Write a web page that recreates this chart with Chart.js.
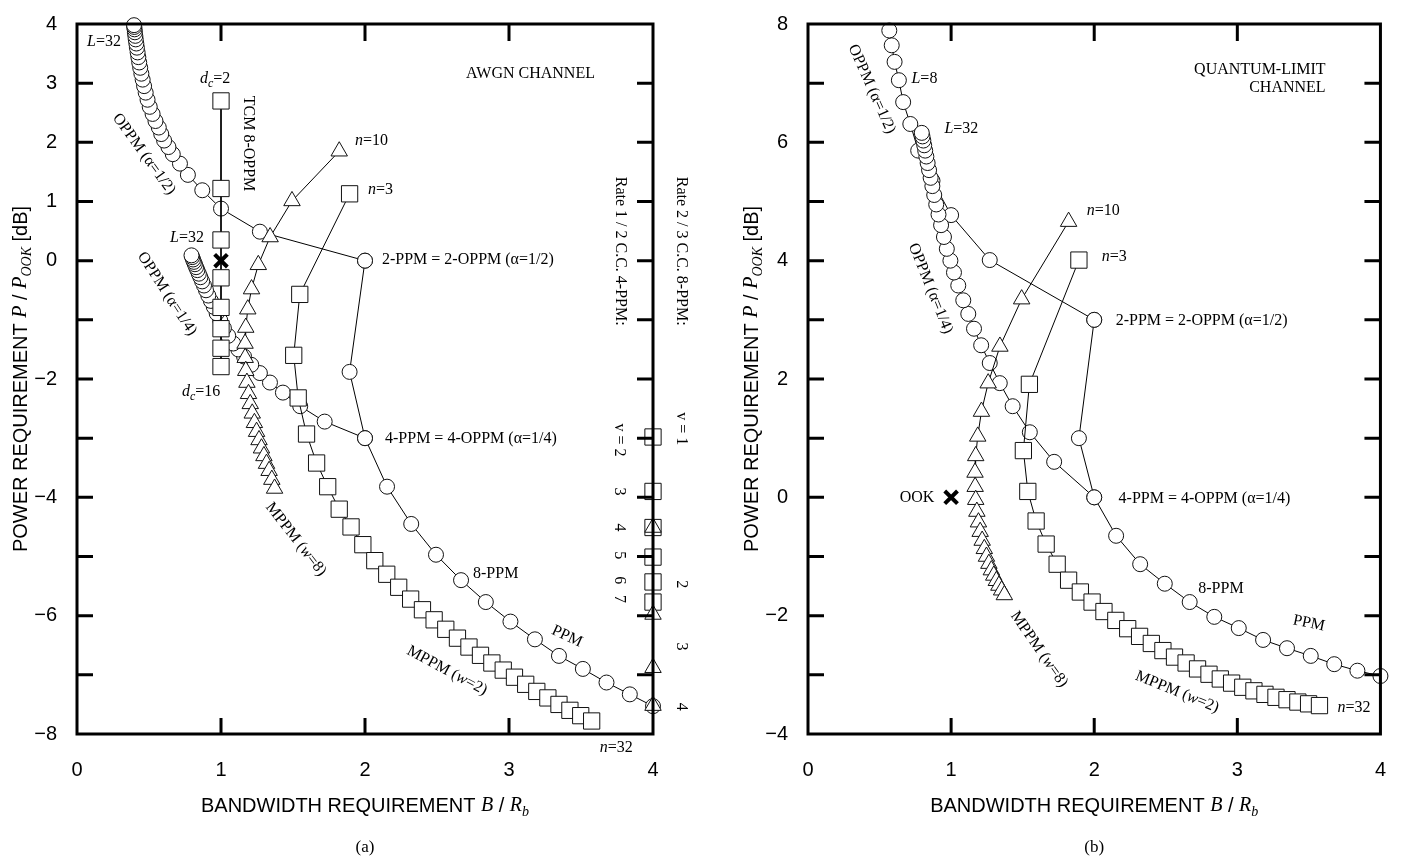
<!DOCTYPE html>
<html lang="en">
<head>
<meta charset="UTF-8">
<title>Power vs bandwidth requirement</title>
<style>
  html, body { margin: 0; padding: 0; background: #fff; }
  #wrap { position: relative; width: 1402px; height: 860px; }
  .panel { position: absolute; top: 0; width: 701px; height: 860px; }
</style>
</head>
<body>
<script src="https://cdn.jsdelivr.net/npm/chart.js"></script>
<div id="wrap">
  <div class="panel" style="left:0"><canvas id="awgnChart"></canvas></div>
  <div class="panel" style="left:701px"><canvas id="qlChart"></canvas></div>
</div>
<script>
// bandwidth requirement B/Rb (same for both channels)
const ppmB = [2.0, 1.893, 2.0, 2.153, 2.321, 2.493, 2.667, 2.839, 3.010, 3.180, 3.347, 3.513, 3.677, 3.839, 4.0];
const oppmHalfB = [2.0, 1.27, 1.0, 0.87, 0.77, 0.715, 0.665, 0.635, 0.605, 0.585, 0.568, 0.545, 0.525, 0.505, 0.49, 0.477,
  0.466, 0.456, 0.447, 0.439, 0.432, 0.426, 0.421, 0.416, 0.412, 0.408, 0.405, 0.402, 0.40, 0.398, 0.396];
const oppmQuarterB = [2.0, 1.72, 1.55, 1.43, 1.34, 1.27, 1.21, 1.16, 1.12, 1.085, 1.05, 1.02, 0.995, 0.97, 0.95, 0.93,
  0.912, 0.896, 0.882, 0.869, 0.857, 0.846, 0.836, 0.827, 0.819, 0.812, 0.806, 0.80, 0.795];
const mppm2B = [1.893, 1.547, 1.505, 1.536, 1.594, 1.664, 1.741, 1.821, 1.903, 1.985, 2.068, 2.151, 2.234, 2.317, 2.399,
  2.480, 2.561, 2.642, 2.722, 2.802, 2.881, 2.960, 3.038, 3.116, 3.193, 3.270, 3.347, 3.423, 3.498, 3.574];
const mppm8B = [1.821, 1.493, 1.341, 1.259, 1.212, 1.186, 1.172, 1.167, 1.168, 1.172, 1.180, 1.191, 1.203, 1.217, 1.232,
  1.247, 1.264, 1.281, 1.298, 1.316, 1.334, 1.353, 1.372];
const tcmB = [1, 1, 1, 1, 1, 1, 1, 1];
const cc12B = [4, 4, 4, 4, 4, 4];
const cc23B = [4, 4, 4, 4];
const ookB = [1];

// power requirement P/Pook [dB], AWGN channel
const ppmAwgn = [0, -1.88, -3.0, -3.82, -4.45, -4.97, -5.4, -5.77, -6.1, -6.4, -6.68, -6.9, -7.13, -7.33, -7.53];
const oppmHalfAwgn = [0.0, 0.49, 0.88, 1.19, 1.45, 1.64, 1.80, 1.92, 2.03, 2.14, 2.25, 2.36, 2.48, 2.60, 2.72, 2.84,
  2.95, 3.06, 3.16, 3.26, 3.35, 3.44, 3.52, 3.60, 3.67, 3.74, 3.80, 3.86, 3.91, 3.95, 3.98];
const oppmQuarterAwgn = [-3.0, -2.72, -2.46, -2.23, -2.06, -1.9, -1.76, -1.62, -1.50, -1.40, -1.27, -1.14, -1.01, -0.89,
  -0.78, -0.68, -0.59, -0.50, -0.42, -0.35, -0.28, -0.22, -0.16, -0.11, -0.06, -0.02, 0.02, 0.06, 0.09];
const mppm2Awgn = [1.13, -0.57, -1.6, -2.32, -2.93, -3.42, -3.82, -4.2, -4.5, -4.8, -5.07, -5.3, -5.52, -5.72, -5.9,
  -6.07, -6.23, -6.38, -6.53, -6.67, -6.8, -6.92, -7.04, -7.16, -7.28, -7.39, -7.5, -7.6, -7.69, -7.78];
const mppm8Awgn = [1.85, 1.01, 0.4, -0.07, -0.48, -0.82, -1.13, -1.4, -1.64, -1.86, -2.06, -2.25, -2.42, -2.58, -2.74,
  -2.89, -3.03, -3.17, -3.3, -3.43, -3.55, -3.7, -3.85];
const tcmAwgn = [2.70, 1.22, 0.35, -0.29, -0.79, -1.15, -1.48, -1.79];
const cc12Awgn = [-2.98, -3.9, -4.51, -5.01, -5.43, -5.77];
const cc23Awgn = [-4.51, -5.98, -6.88, -7.52];
const ookP = [0];

// power requirement, quantum-limit channel
const ppmQl = [3.0, 1.0, 0.0, -0.65, -1.13, -1.46, -1.77, -2.02, -2.21, -2.41, -2.55, -2.68, -2.82, -2.93, -3.02];
const oppmHalfQl = [3.0, 4.01, 4.77, 5.35, 5.86, 6.31, 6.68, 7.05, 7.36, 7.64, 7.89];
const oppmQuarterQl = [0, 0.6, 1.1, 1.54, 1.93, 2.27, 2.57, 2.85, 3.10, 3.33, 3.58, 3.80, 4.0, 4.2, 4.4, 4.6, 4.78,
  4.95, 5.11, 5.26, 5.40, 5.53, 5.65, 5.76, 5.86, 5.95, 6.03, 6.10, 6.16];
const mppm2Ql = [4.01, 1.91, 0.79, 0.1, -0.4, -0.79, -1.13, -1.4, -1.6, -1.77, -1.93, -2.08, -2.22, -2.35, -2.47, -2.59,
  -2.7, -2.8, -2.9, -2.99, -3.07, -3.14, -3.21, -3.27, -3.33, -3.38, -3.42, -3.46, -3.49, -3.52];
const mppm8Ql = [4.66, 3.35, 2.55, 1.93, 1.45, 1.03, 0.7, 0.42, 0.18, -0.04, -0.24, -0.42, -0.58, -0.73, -0.87, -1.0,
  -1.12, -1.23, -1.32, -1.41, -1.49, -1.57, -1.65];

// text on the plots: *italic*, ~subscript~
const awgnNotes = [
  { x: 0.07, y: 3.70, s: '*L*=32', a: 'left' },
  { x: 0.854, y: 3.08, s: '*d*~c~=2', a: 'left' },
  { x: 1.188, y: 1.98, s: 'TCM 8-OPPM', r: 90 },
  { x: 0.465, y: 1.80, s: 'OPPM (α=1/2)', r: 54 },
  { x: 0.646, y: 0.38, s: '*L*=32', a: 'left' },
  { x: 0.625, y: -0.56, s: 'OPPM (α=1/4)', r: 57 },
  { x: 0.729, y: -2.21, s: '*d*~c~=16', a: 'left' },
  { x: 1.93, y: 2.03, s: '*n*=10', a: 'left' },
  { x: 2.02, y: 1.20, s: '*n*=3', a: 'left' },
  { x: 2.118, y: 0.01, s: '2-PPM = 2-OPPM (α=1/2)', a: 'left' },
  { x: 3.597, y: 3.165, s: 'AWGN CHANNEL', a: 'right' },
  { x: 3.77, y: 0.16, s: 'Rate 1 / 2 C.C. 4-PPM:', r: 90 },
  { x: 4.194, y: 0.16, s: 'Rate 2 / 3 C.C. 8-PPM:', r: 90 },
  { x: 3.764, y: -3.03, s: 'v = 2', r: 90 },
  { x: 3.764, y: -3.90, s: '3', r: 90 },
  { x: 3.764, y: -4.51, s: '4', r: 90 },
  { x: 3.764, y: -4.98, s: '5', r: 90 },
  { x: 3.764, y: -5.40, s: '6', r: 90 },
  { x: 3.764, y: -5.72, s: '7', r: 90 },
  { x: 4.194, y: -2.84, s: 'v = 1', r: 90 },
  { x: 4.194, y: -5.47, s: '2', r: 90 },
  { x: 4.194, y: -6.52, s: '3', r: 90 },
  { x: 4.194, y: -7.54, s: '4', r: 90 },
  { x: 2.75, y: -5.30, s: '8-PPM', a: 'left' },
  { x: 2.139, y: -3.01, s: '4-PPM = 4-OPPM (α=1/4)', a: 'left' },
  { x: 3.403, y: -6.35, s: 'PPM', r: 25 },
  { x: 2.57, y: -6.93, s: 'MPPM (*w*=2)', r: 28 },
  { x: 1.52, y: -4.71, s: 'MPPM (*w*=8)', r: 52 },
  { x: 3.63, y: -8.24, s: '*n*=32', a: 'left' }
];
const qlNotes = [
  { x: 0.445, y: 6.90, s: 'OPPM (α=1/2)', r: 66 },
  { x: 0.723, y: 7.07, s: '*L*=8', a: 'left' },
  { x: 0.953, y: 6.23, s: '*L*=32', a: 'left' },
  { x: 0.856, y: 3.53, s: 'OPPM (α=1/4)', r: 68 },
  { x: 1.948, y: 4.84, s: '*n*=10', a: 'left' },
  { x: 2.052, y: 4.06, s: '*n*=3', a: 'left' },
  { x: 2.15, y: 2.99, s: '2-PPM = 2-OPPM (α=1/2)', a: 'left' },
  { x: 3.617, y: 7.23, s: 'QUANTUM-LIMIT', a: 'right' },
  { x: 3.617, y: 6.915, s: 'CHANNEL', a: 'right' },
  { x: 0.883, y: -0.01, s: 'OOK', a: 'right' },
  { x: 2.17, y: -0.03, s: '4-PPM = 4-OPPM (α=1/4)', a: 'left' },
  { x: 2.727, y: -1.55, s: '8-PPM', a: 'left' },
  { x: 3.50, y: -2.13, s: 'PPM', r: 12 },
  { x: 2.58, y: -3.29, s: 'MPPM (*w*=2)', r: 22 },
  { x: 3.70, y: -3.55, s: '*n*=32', a: 'left' },
  { x: 1.614, y: -2.57, s: 'MPPM (*w*=8)', r: 55 }
];

const SANS = '"Liberation Sans", Arial, sans-serif';
const SERIF = '"Liberation Serif", "Times New Roman", serif';

function parseRich(str) {
  const parts = [];
  let cur = '', it = false, sub = false;
  for (const ch of str) {
    if (ch === '*' || ch === '~') {
      if (cur) parts.push({ t: cur, it, sub });
      cur = '';
      if (ch === '*') it = !it; else sub = !sub;
    } else cur += ch;
  }
  if (cur) parts.push({ t: cur, it, sub });
  return parts;
}

function fontFor(p, size, family) {
  const s = p.sub ? Math.round(size * 0.72) : size;
  return (p.it || p.sub) ? `italic ${s}px ${SERIF}` : `${s}px ${family}`;
}

// draws at the current origin, vertically centred
function drawRich(ctx, str, size, family, align) {
  const parts = parseRich(str);
  let w = 0;
  parts.forEach(p => { ctx.font = fontFor(p, size, family); p.w = ctx.measureText(p.t).width; w += p.w; });
  let x = align === 'left' ? 0 : align === 'right' ? -w : -w / 2;
  ctx.textAlign = 'left';
  ctx.textBaseline = 'middle';
  parts.forEach(p => {
    ctx.font = fontFor(p, size, family);
    ctx.fillText(p.t, x, p.sub ? size * 0.32 : 0);
    x += p.w;
  });
}

function series(xs, ys, style, radius) {
  return {
    data: ys.map((y, i) => ({ x: xs[i], y })),
    showLine: true,
    borderColor: '#000',
    borderWidth: 1,
    pointStyle: style,
    pointRadius: radius,
    pointHoverRadius: radius,
    pointBackgroundColor: '#fff',
    pointBorderColor: '#111',
    pointBorderWidth: 1,
    clip: false
  };
}

// frame, inward ticks and all the text
const paperPlugin = {
  id: 'paper',
  afterDatasetsDraw(chart) {
    const { ctx, chartArea: a, scales: { x, y } } = chart;
    ctx.save();
    ctx.strokeStyle = '#000';
    ctx.lineWidth = 3;
    ctx.beginPath();
    y.ticks.forEach(t => {
      if (t.value <= y.min || t.value >= y.max) return;
      const py = y.getPixelForValue(t.value);
      ctx.moveTo(a.left, py); ctx.lineTo(a.left + 16, py);
      ctx.moveTo(a.right, py); ctx.lineTo(a.right - 16, py);
    });
    x.ticks.forEach(t => {
      if (t.value <= x.min || t.value >= x.max) return;
      const px = x.getPixelForValue(t.value);
      ctx.moveTo(px, a.top); ctx.lineTo(px, a.top + 17);
      ctx.moveTo(px, a.bottom); ctx.lineTo(px, a.bottom - 16);
    });
    ctx.stroke();
    ctx.strokeRect(a.left, a.top, a.right - a.left, a.bottom - a.top);
    ctx.restore();
  },
  afterDraw(chart, args, opts) {
    const { ctx, chartArea: a, scales: { x, y } } = chart;
    ctx.save();
    ctx.fillStyle = '#000';
    opts.notes.forEach(n => {
      ctx.save();
      ctx.translate(x.getPixelForValue(n.x), y.getPixelForValue(n.y));
      if (n.r) ctx.rotate(n.r * Math.PI / 180);
      drawRich(ctx, n.s, 16, SERIF, n.a || 'center');
      ctx.restore();
    });
    // axis titles and caption
    ctx.save();
    ctx.translate(opts.yTitleX, (a.top + a.bottom) / 2);
    ctx.rotate(-Math.PI / 2);
    drawRich(ctx, 'POWER REQUIREMENT *P* / *P*~OOK~ [dB]', 20, SANS, 'center');
    ctx.restore();
    ctx.save();
    ctx.translate((a.left + a.right) / 2, a.bottom + 72);
    drawRich(ctx, 'BANDWIDTH REQUIREMENT *B* / *R*~b~', 20, SANS, 'center');
    ctx.restore();
    ctx.save();
    ctx.translate((a.left + a.right) / 2, a.bottom + 114);
    drawRich(ctx, opts.caption, 17, SERIF, 'center');
    ctx.restore();
    ctx.restore();
  }
};

function fmt(v) { return v < 0 ? '\u2212' + (-v) : String(v); }

function makeOptions(yMin, yMax, yLabel, yWidth, padRight, notes, yTitleX, caption) {
  return {
    responsive: true,
    maintainAspectRatio: false,
    animation: false,
    events: [],
    layout: { padding: { top: 15, right: padRight, left: 0, bottom: 0 } },
    plugins: {
      legend: { display: false },
      tooltip: { enabled: false },
      paper: { notes, yTitleX, caption }
    },
    scales: {
      x: {
        type: 'linear', min: 0, max: 4,
        grid: { display: false }, border: { display: false },
        ticks: { stepSize: 1, color: '#000', padding: 16, maxRotation: 0, font: { family: SANS, size: 20 } },
        afterFit: s => { s.height = 126; }
      },
      y: {
        type: 'linear', min: yMin, max: yMax,
        grid: { display: false }, border: { display: false },
        ticks: { stepSize: 1, autoSkip: false, color: '#000', padding: 12, font: { family: SANS, size: 20 },
          callback: v => yLabel(v) ? fmt(v) : '' },
        afterFit: s => { s.width = yWidth; }
      }
    }
  };
}

const ookStyle = { pointStyle: 'crossRot', pointRadius: 9, pointBorderWidth: 4, pointBorderColor: '#000', showLine: false };

new Chart(document.getElementById('awgnChart'), {
  type: 'scatter',
  data: {
    datasets: [
      Object.assign(series(ookB, ookP, 'crossRot', 9), ookStyle),
      series(cc23B, cc23Awgn, 'triangle', 9.5),
      series(cc12B, cc12Awgn, 'rect', 11.5),
      series(tcmB, tcmAwgn, 'rect', 11.5),
      series(mppm8B, mppm8Awgn, 'triangle', 9.5),
      series(mppm2B, mppm2Awgn, 'rect', 11.5),
      series(oppmQuarterB, oppmQuarterAwgn, 'circle', 7.5),
      series(oppmHalfB, oppmHalfAwgn, 'circle', 7.5),
      series(ppmB, ppmAwgn, 'circle', 7.5)
    ]
  },
  options: makeOptions(-8, 4, v => v >= 0 || v % 2 === 0, 77, 48, awgnNotes, 21, '(a)'),
  plugins: [paperPlugin]
});

new Chart(document.getElementById('qlChart'), {
  type: 'scatter',
  data: {
    datasets: [
      Object.assign(series(ookB, ookP, 'crossRot', 9), ookStyle),
      series(mppm8B, mppm8Ql, 'triangle', 9.5),
      series(mppm2B, mppm2Ql, 'rect', 11.5),
      series(oppmQuarterB, oppmQuarterQl, 'circle', 7.5),
      series(oppmHalfB, oppmHalfQl, 'circle', 7.5),
      series(ppmB, ppmQl, 'circle', 7.5)
    ]
  },
  options: makeOptions(-4, 8, v => v % 2 === 0, 107, 19, qlNotes, 51, '(b)'),
  plugins: [paperPlugin]
});
</script>
</body>
</html>
